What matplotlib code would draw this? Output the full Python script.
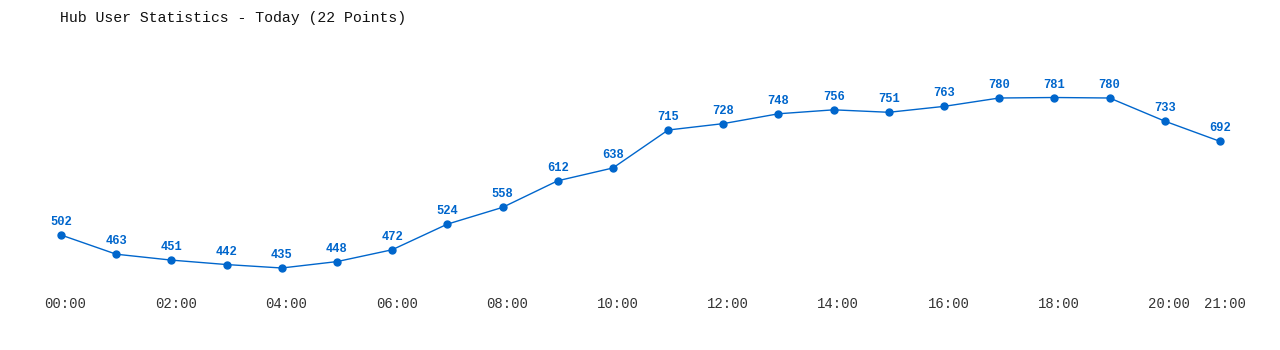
import matplotlib
matplotlib.use("Agg")
import matplotlib.pyplot as plt
from matplotlib.transforms import ScaledTranslation

hours = list(range(22))
users = [502, 463, 451, 442, 435, 448, 472, 524, 558, 612, 638,
         715, 728, 748, 756, 751, 763, 780, 781, 780, 733, 692]
tick_pos = [0, 2, 4, 6, 8, 10, 12, 14, 16, 18, 20, 21]
tick_labels = ["%02d:00" % h for h in tick_pos]

blue = "#0066cc"

fig = plt.figure(figsize=(12.8, 3.5), dpi=100)
ax = fig.add_axes([61 / 1280, 82 / 350, (1220 - 61) / 1280, 170 / 350])
ax.set_xlim(0, 21)
ax.set_ylim(435, 780)

ax.plot(hours, users, color=blue, linewidth=1, marker="o", markersize=5,
        clip_on=False)
for h, u in zip(hours, users):
    ax.annotate(str(u), (h, u), xytext=(0, 5), textcoords="offset points",
                ha="center", va="bottom", color=blue, fontsize=8.7,
                fontweight="bold", family="Liberation Mono")

ax.set_xticks(tick_pos)
ax.set_xticklabels(tick_labels, family="Liberation Mono", fontsize=10,
                   color="#333333")
ax.tick_params(axis="x", length=0, pad=21)
# labels sit a few pixels right of the points in the original
shift = ScaledTranslation(4.5 / 100, 0, fig.dpi_scale_trans)
for lbl in ax.get_xticklabels():
    lbl.set_transform(lbl.get_transform() + shift)
ax.set_yticks([])
for s in ax.spines.values():
    s.set_visible(False)

fig.text(60 / 1280, 1 - 18 / 350, "Hub User Statistics - Today (22 Points)",
         family="Liberation Mono", fontsize=10.75, color="#111111",
         ha="left", va="center")

fig.savefig("out.png", dpi=100)
